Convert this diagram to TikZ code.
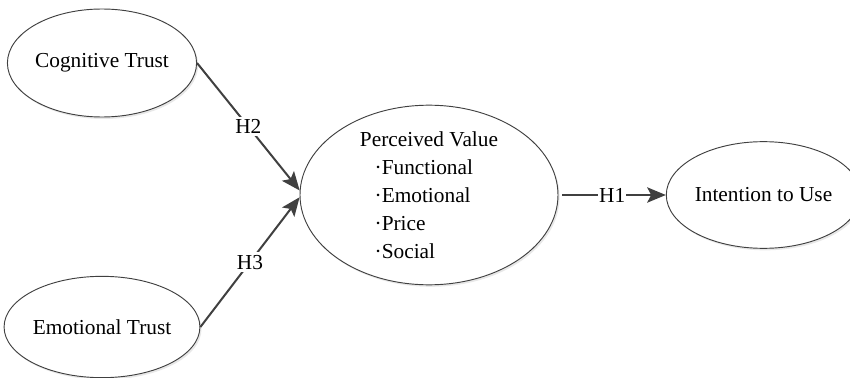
\documentclass[tikz,border=0pt]{standalone}
\usepackage{fontspec}
\setmainfont{Liberation Serif}
\usetikzlibrary{shapes.geometric,arrows.meta,shadows}
\definecolor{edgegray}{HTML}{404040}
\begin{document}
\begin{tikzpicture}[x=0.75pt,y=-0.75pt,
  construct/.style={ellipse,draw=edgegray,line width=0.7pt,fill=white,inner sep=0pt,
    drop shadow={shadow xshift=1.2pt,shadow yshift=-1.5pt,opacity=0.18},
    font=\fontsize{16pt}{21pt}\selectfont},
  path/.style={draw=edgegray,line width=1.5pt,-{Stealth[length=14pt,width=11.5pt,inset=3pt]}},
  hlabel/.style={fill=white,inner sep=2pt,font=\fontsize{16pt}{21pt}\selectfont}]
\useasboundingbox (0,0) rectangle (850,378);
\node[construct,minimum width=135.75pt,minimum height=81pt] (ct) at (102,63) {Cognitive Trust};
\node[construct,minimum width=135.75pt,minimum height=76pt] (et) at (102,327) {Emotional Trust};
\node[construct,minimum width=193.5pt,minimum height=117pt,align=left] (pv) at (429,195)
  {Perceived Value\\\hspace*{11pt}·Functional\\\hspace*{11pt}·Emotional\\\hspace*{11pt}·Price\\\hspace*{11pt}·Social};
\node[construct,minimum width=128.25pt,minimum height=80pt] (iu) at (763.5,195) {Intention to Use};
\draw[path] (ct.east) -- node[hlabel] (h2) {H2} (pv.178.7);
\draw[path] (et.east) -- node[hlabel] (h3) {H3} (pv.181.3);
\draw[path,shorten <=3pt] (pv.east) -- node[hlabel,inner sep=0.5pt] (h1) {H1} (iu.west);
\end{tikzpicture}
\end{document}
